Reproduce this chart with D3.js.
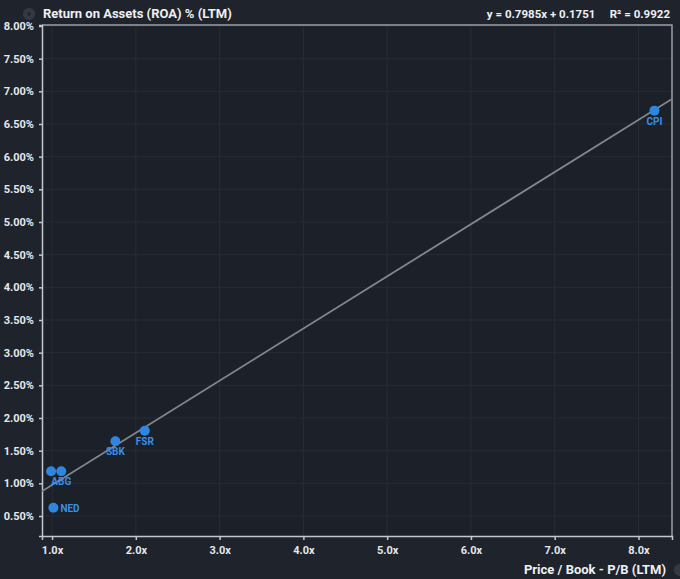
<!DOCTYPE html>
<html><head><meta charset="utf-8">
<script src="https://cdn.jsdelivr.net/npm/d3@7"></script>
<style>
html,body{margin:0;padding:0;background:#1f232b;}
svg{display:block;font-family:Roboto, "Noto Sans", sans-serif;}
</style></head>
<body>
<script>
const tickers = ["NED","ABG","ABG","SBK","FSR","CPI"];
const pbValues = [1.016, 0.988, 1.11, 1.756, 2.107, 8.19];
const roaValues = [0.627, 1.184, 1.184, 1.643, 1.806, 6.704];
const showLabel = [true, false, true, true, true, true];
const yTicks = [0.5,1.0,1.5,2.0,2.5,3.0,3.5,4.0,4.5,5.0,5.5,6.0,6.5,7.0,7.5,8.0];
const xTicks = [1,2,3,4,5,6,7,8];
const slope = 0.7985, intercept = 0.1751, r2 = 0.9922;

const W = 680, H = 579;
const m = {left:42, top:25, right:672, bottom:536};
const svg = d3.select("body").append("svg").attr("width",W).attr("height",H);

svg.append("rect").attr("width",W).attr("height",H).attr("fill","#1f232b");
svg.append("rect").attr("x",m.left).attr("y",m.top).attr("width",m.right-m.left).attr("height",m.bottom-m.top).attr("fill","#1c2029");

const x = d3.scaleLinear().domain([0.88, 8.4]).range([m.left, m.right]);
const y = d3.scaleLinear().domain([0.194, 8.015]).range([m.bottom, m.top]);

// grid
svg.append("g").selectAll("line").data(xTicks).join("line")
  .attr("x1",d=>x(d)).attr("x2",d=>x(d)).attr("y1",m.top).attr("y2",m.bottom)
  .attr("stroke","#272c35").attr("stroke-width",1);
svg.append("g").selectAll("line").data(yTicks).join("line")
  .attr("x1",m.left).attr("x2",m.right).attr("y1",d=>y(d)).attr("y2",d=>y(d))
  .attr("stroke","#272c35").attr("stroke-width",1);

// frame
svg.append("path").attr("d",`M${m.left},${m.top}H${m.right}V${m.bottom}`)
  .attr("fill","none").attr("stroke","#9a9ea6").attr("stroke-width",1.5);

// axes
const yAxis = d3.axisLeft(y).tickValues(yTicks).tickFormat(d=>d.toFixed(2)+"%").tickSize(3).tickPadding(5);
const gy = svg.append("g").attr("transform",`translate(${m.left},0)`).call(yAxis);
const xAxis = d3.axisBottom(x).tickValues(xTicks).tickFormat(d=>d.toFixed(1)+"x").tickSize(4).tickPadding(6);
const gx = svg.append("g").attr("transform",`translate(0,${m.bottom})`).call(xAxis);
[gx,gy].forEach(g=>{
  g.select(".domain").attr("stroke","#c4c8ce").attr("stroke-width",1.5);
  g.selectAll(".tick line").attr("stroke","#c4c8ce").attr("stroke-width",1.5);
  g.selectAll(".tick text").attr("fill","#e6e8eb").attr("font-size","11px").attr("font-weight","bold").attr("font-family","Roboto, sans-serif");
});

// regression line
svg.append("clipPath").attr("id","pc").append("rect")
  .attr("x",m.left).attr("y",m.top).attr("width",m.right-m.left).attr("height",m.bottom-m.top);
const xd = x.domain();
svg.append("line").attr("clip-path","url(#pc)")
  .attr("x1",x(xd[0])).attr("y1",y(slope*xd[0]+intercept))
  .attr("x2",x(xd[1])).attr("y2",y(slope*xd[1]+intercept))
  .attr("stroke","#82868d").attr("stroke-width",1.8);

// points
const pts = tickers.map((t,i)=>({t, px:pbValues[i], py:roaValues[i], lab:showLabel[i]}));
svg.append("g").selectAll("circle").data(pts).join("circle")
  .attr("cx",d=>x(d.px)).attr("cy",d=>y(d.py)).attr("r",5).attr("fill","#2d86e0");
svg.append("g").selectAll("text").data(pts.filter(d=>d.lab)).join("text")
  .attr("x",d=>d.t==="NED"? x(d.px)+7 : x(d.px))
  .attr("y",d=>d.t==="NED"? y(d.py)+4 : y(d.py)+14)
  .attr("text-anchor",d=>d.t==="NED"?"start":"middle")
  .attr("fill","#3a8ee6").attr("font-size","10px").attr("font-weight","bold")
  .text(d=>d.t);

// title
svg.append("text").attr("x",43).attr("y",18).attr("fill","#eef0f2")
  .attr("font-size","13px").attr("font-weight","bold").text("Return on Assets (ROA) % (LTM)");
// gear icon
const gear = svg.append("g").attr("transform","translate(29,14)");
gear.selectAll("rect").data(d3.range(8)).join("rect")
  .attr("x",-1.3).attr("y",-6).attr("width",2.6).attr("height",12)
  .attr("transform",d=>`rotate(${d*22.5})`).attr("fill","#343942");
gear.append("circle").attr("r",4.5).attr("fill","#343942");
gear.append("circle").attr("r",1.8).attr("fill","#1f232b");

// equation
svg.append("text").attr("x",670).attr("y",18).attr("text-anchor","end").attr("fill","#eef0f2")
  .attr("font-size","11.5px").attr("font-weight","bold").attr("xml:space","preserve")
  .text(`y = ${slope.toFixed(4)}x + ${intercept.toFixed(4)}     R² = ${r2.toFixed(4)}`);

// x label
svg.append("text").attr("x",666).attr("y",574).attr("text-anchor","end").attr("fill","#eef0f2")
  .attr("font-size","13px").attr("font-weight","bold").text("Price / Book - P/B (LTM)");
const gear2 = svg.append("g").attr("transform","translate(680,570)");
gear2.selectAll("rect").data(d3.range(8)).join("rect")
  .attr("x",-1.3).attr("y",-6).attr("width",2.6).attr("height",12)
  .attr("transform",d=>`rotate(${d*22.5})`).attr("fill","#343942");
gear2.append("circle").attr("r",4.5).attr("fill","#343942");
</script>
</body></html>
